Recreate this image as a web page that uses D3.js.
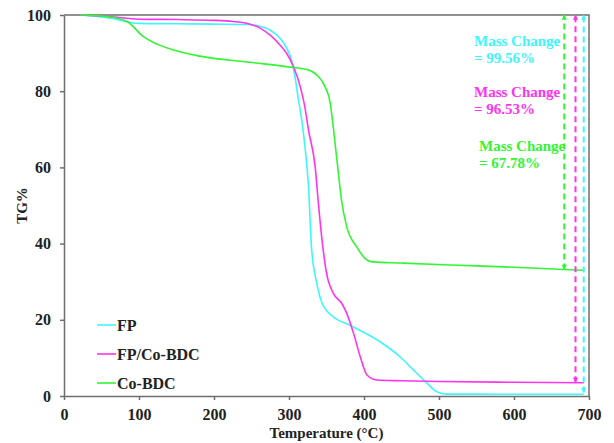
<!DOCTYPE html>
<html>
<head>
<style>
body{ margin:0; background:#fff; }
svg text{ font-family:"Liberation Serif","Times New Roman",serif; font-weight:bold; }
.axis path, .axis line{ stroke:#6e6e6e; stroke-width:1.5; }
.axis text{ fill:#222; font-size:16px; }
</style>
</head>
<body>
<div id="chart"></div>
<script src="https://cdn.jsdelivr.net/npm/d3@7.8.5/dist/d3.min.js"></script>
<script>
// TG curves (temperature in °C, mass %)
const fpTemp   = [22, 60, 100, 150, 200, 248, 262, 275, 288, 297, 304, 308, 312, 317, 321, 326, 330, 337, 344, 359, 381, 421, 448, 466, 484, 497, 510, 550, 600, 650, 693];
const fpMass   = [100, 99.2, 97.8, 97.7, 97.6, 97.5, 97.0, 96.0, 93.9, 91.3, 87.7, 83.8, 78.5, 72.4, 66, 55, 39, 29.6, 24.4, 20.8, 18.6, 14.3, 10.3, 6.8, 3.4, 1.1, 0.5, 0.48, 0.47, 0.45, 0.44];

const fpcoTemp = [22, 60, 100, 150, 200, 225, 248, 262, 275, 288, 297, 306, 315, 321, 326, 335, 339, 344, 350, 359, 370, 377, 386, 395, 404, 417, 450, 500, 600, 693];
const fpcoMass = [100, 99.6, 98.9, 98.8, 98.6, 98.3, 97.6, 96.5, 94.7, 92.1, 89.9, 86.4, 81.2, 76, 69.8, 60, 51, 41, 32.3, 27, 24.4, 21.7, 16.5, 10.3, 5.5, 4.2, 4.0, 3.8, 3.6, 3.47];

const coTemp   = [22, 60, 84, 106, 117, 146, 181, 248, 306, 324, 337, 348, 355, 359, 365, 370, 377, 390, 404, 412, 450, 515, 600, 666, 693];
const coMass   = [100, 99.5, 98.3, 94.3, 93, 90.8, 89.2, 87.6, 86.2, 85.7, 84.3, 81.2, 76.9, 70.6, 60, 51.4, 44.4, 39.2, 35.7, 35.2, 34.9, 34.4, 33.8, 33.2, 33.0];

const seriesNames  = ["FP", "FP/Co-BDC", "Co-BDC"];
const seriesColors = ["#3ff5ff", "#ff33f0", "#33f533"];

// mass change annotations: label, arrow temperature, residual mass
const changeLabels = ["= 99.56%", "= 96.53%", "= 67.78%"];
const changeTemps  = [693, 682, 667];
const changeLow    = [0.9, 3.6, 33.2];

const xTicks = [0, 100, 200, 300, 400, 500, 600, 700];
const yTicks = [0, 20, 40, 60, 80, 100];

const width = 614, height = 443;
const margin = {top: 15, right: 25, bottom: 47, left: 64};

const svg = d3.select("#chart").append("svg")
    .attr("width", width)
    .attr("height", height);

const x = d3.scaleLinear().domain([0, 700]).range([margin.left, width - margin.right]);
const y = d3.scaleLinear().domain([0, 100]).range([height - margin.bottom, margin.top]);

// frame (top + right)
svg.append("path")
    .attr("d", `M${x(0)},${y(100)}H${x(700)}V${y(0)}`)
    .attr("fill", "none")
    .attr("stroke", "#6e6e6e")
    .attr("stroke-width", 1.5);

svg.append("g").attr("class", "axis")
    .attr("transform", `translate(0,${y(0)})`)
    .call(d3.axisBottom(x).tickValues(xTicks).tickSize(4).tickPadding(9).tickSizeOuter(0));

svg.append("g").attr("class", "axis")
    .attr("transform", `translate(${x(0)},0)`)
    .call(d3.axisLeft(y).tickValues(yTicks).tickSize(4).tickPadding(9).tickSizeOuter(0));

svg.append("text")
    .attr("x", (x(0) + x(700)) / 2)
    .attr("y", 438)
    .attr("text-anchor", "middle")
    .attr("font-size", 15)
    .attr("fill", "#222")
    .text("Temperature (°C)");

svg.append("text")
    .attr("transform", `translate(27,${(y(0) + y(100)) / 2}) rotate(-90)`)
    .attr("text-anchor", "middle")
    .attr("font-size", 15)
    .attr("fill", "#222")
    .text("TG%");

// curves
const series = [
    d3.zip(fpTemp, fpMass),
    d3.zip(fpcoTemp, fpcoMass),
    d3.zip(coTemp, coMass)
];

const line = d3.line()
    .x(d => x(d[0]))
    .y(d => y(d[1]))
    .curve(d3.curveMonotoneX);

svg.selectAll(".curve")
    .data(series)
    .join("path")
    .attr("class", "curve")
    .attr("fill", "none")
    .attr("stroke", (d, i) => seriesColors[i])
    .attr("stroke-width", 1.6)
    .attr("d", line);

// arrow markers
const defs = svg.append("defs");
seriesColors.forEach((c, i) => {
    defs.append("marker")
        .attr("id", "arr" + i)
        .attr("viewBox", "0 0 10 10")
        .attr("refX", 9).attr("refY", 5)
        .attr("markerWidth", 3).attr("markerHeight", 2.6)
        .attr("markerUnits", "strokeWidth")
        .attr("orient", "auto-start-reverse")
        .append("path")
        .attr("d", "M0,0L10,5L0,10Z")
        .attr("fill", c);
});

svg.selectAll(".change")
    .data(changeTemps)
    .join("line")
    .attr("class", "change")
    .attr("x1", d => x(d)).attr("x2", d => x(d))
    .attr("y1", (d, i) => y(changeLow[i]))
    .attr("y2", y(100))
    .attr("stroke", (d, i) => seriesColors[i])
    .attr("stroke-width", 2)
    .attr("stroke-dasharray", "6,4")
    .attr("marker-start", (d, i) => `url(#arr${i})`)
    .attr("marker-end", (d, i) => `url(#arr${i})`);

// mass change labels
const labelPos = [[474, 46], [474, 97], [479, 151]];
changeLabels.forEach((t, i) => {
    const g = svg.append("text")
        .attr("x", labelPos[i][0])
        .attr("y", labelPos[i][1])
        .attr("font-size", 15)
        .attr("fill", seriesColors[i]);
    g.append("tspan").text("Mass Change");
    g.append("tspan").attr("x", labelPos[i][0]).attr("dy", 16.5).text(t);
});

// legend
const legend = svg.append("g");
seriesNames.forEach((n, i) => {
    const ly = 325 + i * 29;
    legend.append("line")
        .attr("x1", 97).attr("x2", 116)
        .attr("y1", ly).attr("y2", ly)
        .attr("stroke", seriesColors[i])
        .attr("stroke-width", 1.6);
    legend.append("text")
        .attr("x", 117).attr("y", ly + 5.5)
        .attr("font-size", 16)
        .attr("fill", "#222")
        .text(n);
});
</script>
</body>
</html>
